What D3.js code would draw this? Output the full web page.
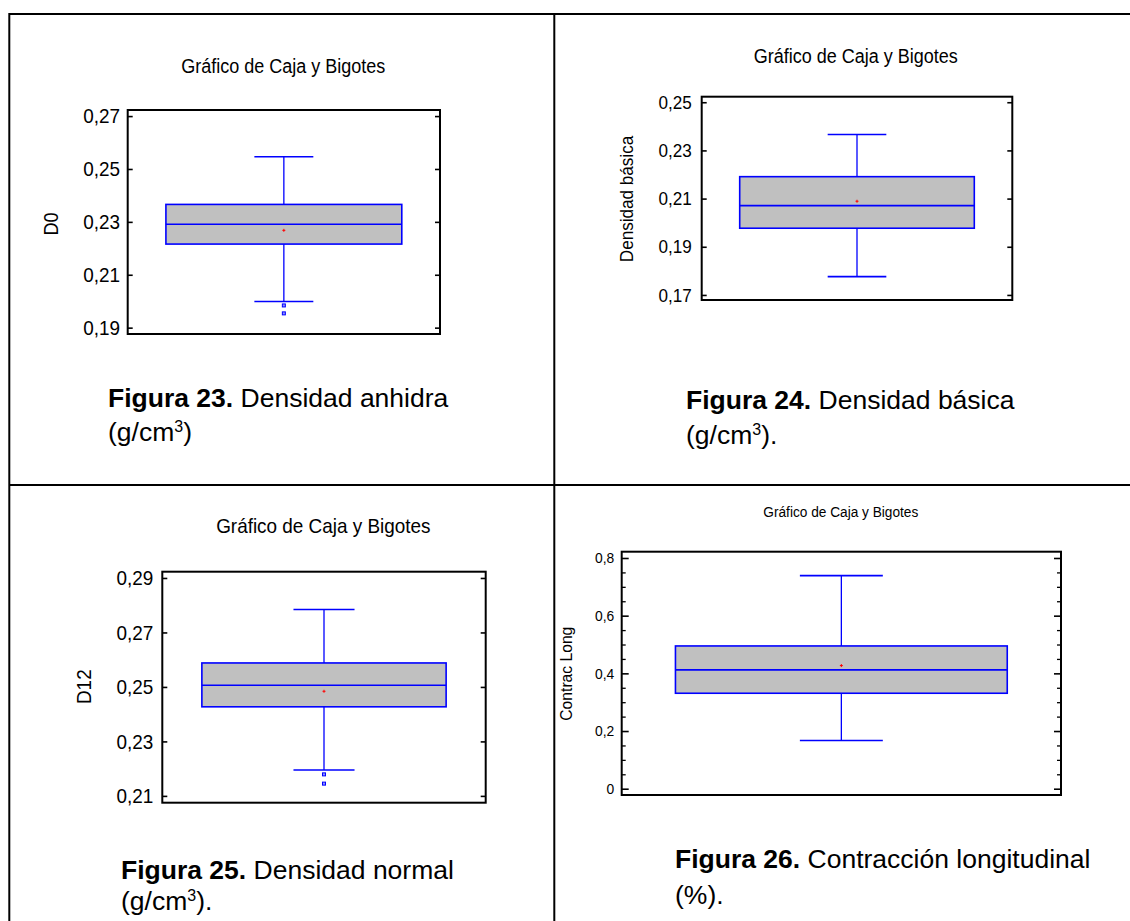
<!DOCTYPE html>
<html><head><meta http-equiv="Content-Type" content="text/html; charset=UTF-8">
<script src="https://d3js.org/d3.v7.min.js"></script>
<style>
    body { margin: 0; background: #fff; }
    svg text { font-family: "Liberation Sans", Arial, sans-serif; fill: #000; }
</style>
</head>
<body>
<div id="body"></div>
<script type="text/javascript">

var w = 1130,
    h = 921;

// values
var yLabels = ["D0", "Densidad básica", "D12", "Contrac Long"];
var lowWhisker = [0.1999, 0.1776, 0.2195, 0.167];
var q1 = [0.2216, 0.1977, 0.2427, 0.331];
var medians = [0.2291, 0.2071, 0.2506, 0.412];
var q3 = [0.2366, 0.2191, 0.2588, 0.495];
var highWhisker = [0.2546, 0.2366, 0.2784, 0.739];
var means = [0.2268, 0.2089, 0.2484, 0.427];
var outliers = [[0.1984, 0.1954], [], [0.2179, 0.2145], []];

var yMin = [0.1876, 0.1679, 0.2075, -0.0218];
var yMax = [0.2723, 0.2523, 0.2923, 0.8218];
var tickValues = [
    [0.19, 0.21, 0.23, 0.25, 0.27],
    [0.17, 0.19, 0.21, 0.23, 0.25],
    [0.21, 0.23, 0.25, 0.27, 0.29],
    [0, 0.2, 0.4, 0.6, 0.8]];
var tickLabels = [
    ["0,19", "0,21", "0,23", "0,25", "0,27"],
    ["0,17", "0,19", "0,21", "0,23", "0,25"],
    ["0,21", "0,23", "0,25", "0,27", "0,29"],
    ["0", "0,2", "0,4", "0,6", "0,8"]];
var minorTicks = [[], [], [], [0.05, 0.1, 0.15, 0.25, 0.3, 0.35, 0.45, 0.5, 0.55, 0.65, 0.7, 0.75]];

var titles = ["Gráfico de Caja y Bigotes", "Gráfico de Caja y Bigotes", "Gráfico de Caja y Bigotes", "Gráfico de Caja y Bigotes"];
var figNums = ["Figura 23.", "Figura 24.", "Figura 25.", "Figura 26."];
var figTexts = [" Densidad anhidra", " Densidad básica", " Densidad normal", " Contracción longitudinal"];
var figUnits = [["(g/cm", "3", ")"], ["(g/cm", "3", ")."], ["(g/cm", "3", ")."], ["(%).", "", ""]];

// where each panel sits on the page
var layout = [
    {x0: 127.7, x1: 440, y0: 110, y1: 334, tx: 283.3, ty: 72.7, ts: 20, fs: 21, pad: 7.7, tick: 5,
     lx: 50.5, ly: 224, ls: 20, cx: 108, cy: 406.7, cy2: 441},
    {x0: 701.7, x1: 1012.3, y0: 96.7, y1: 300, tx: 855.8, ty: 63.3, ts: 20, fs: 19, pad: 10, tick: 5,
     lx: 626, ly: 199, ls: 19, cx: 686, cy: 409.3, cy2: 444},
    {x0: 162.3, x1: 485.7, y0: 571.7, y1: 802.7, tx: 323.3, ty: 532.7, ts: 21, fs: 21, pad: 9, tick: 5,
     lx: 84, ly: 686.7, ls: 21, cx: 121, cy: 879, cy2: 910},
    {x0: 621.7, x1: 1061, y0: 551.7, y1: 795, tx: 840.8, ty: 516.7, ts: 15.2, fs: 15.4, pad: 7.4, tick: 7,
     lx: 566, ly: 673.7, ls: 17.4, cx: 675, cy: 868, cy2: 904}];

// the chart lettering is a narrow face: squeeze glyphs to 90%
function condense(sel) {
    sel.each(function() {
        var n = this.getComputedTextLength();
        d3.select(this).attr("textLength", n * 0.9).attr("lengthAdjust", "spacingAndGlyphs");
    });
}

var svg = d3.select("#body").append("svg")
    .attr("width", w)
    .attr("height", h);

svg.append("rect")
    .attr("width", w)
    .attr("height", h)
    .attr("fill", "#fff");

// table lines of the page
var grid = svg.append("g").attr("stroke", "#000").attr("stroke-width", 2);
grid.append("line").attr("x1", 9.3).attr("x2", w + 5).attr("y1", 14).attr("y2", 14);
grid.append("line").attr("x1", 9.3).attr("x2", 9.3).attr("y1", 13).attr("y2", h + 5);
grid.append("line").attr("x1", 554.3).attr("x2", 554.3).attr("y1", 13).attr("y2", h + 5);
grid.append("line").attr("x1", 9.3).attr("x2", w + 5).attr("y1", 485).attr("y2", 485);

yLabels.forEach(function(name, i) {
    var L = layout[i];
    var g = svg.append("g");

    var y = d3.scaleLinear()
        .domain([yMin[i], yMax[i]])
        .range([L.y1, L.y0]);
    var x = d3.scaleBand()
        .domain([name])
        .range([L.x0, L.x1])
        .paddingInner(0)
        .paddingOuter(0.162);

    var bw = x.bandwidth(),
        xc = x(name) + bw / 2,
        cap = bw * 0.25;

    g.append("text")
        .attr("x", L.tx)
        .attr("y", L.ty)
        .attr("text-anchor", "middle")
        .style("font-size", L.ts + "px")
        .text(titles[i])
        .call(condense);

    var left = g.append("g")
        .attr("transform", "translate(" + L.x0 + ",0)")
        .call(d3.axisLeft(y)
            .tickValues(tickValues[i])
            .tickFormat(function(d, j) { return tickLabels[i][j]; })
            .tickSizeInner(-L.tick)
            .tickSizeOuter(0)
            .tickPadding(L.pad));
    left.select(".domain").remove();
    left.selectAll("line").attr("stroke", "#000").attr("stroke-width", 1.6);
    left.selectAll("text")
        .style("font-size", L.fs + "px")
        .style("font-family", "'Liberation Sans', Arial, sans-serif")
        .attr("fill", "#000")
        .call(condense);

    var right = g.append("g")
        .attr("transform", "translate(" + L.x1 + ",0)")
        .call(d3.axisRight(y)
            .tickValues(tickValues[i])
            .tickFormat("")
            .tickSizeInner(-L.tick)
            .tickSizeOuter(0));
    right.select(".domain").remove();
    right.selectAll("line").attr("stroke", "#000").attr("stroke-width", 1.6);

    if (minorTicks[i].length) {
        [d3.axisLeft(y), d3.axisRight(y)].forEach(function(ax, k) {
            var m = g.append("g")
                .attr("transform", "translate(" + (k == 0 ? L.x0 : L.x1) + ",0)")
                .call(ax.tickValues(minorTicks[i]).tickFormat("").tickSizeInner(-4).tickSizeOuter(0));
            m.select(".domain").remove();
            m.selectAll("line").attr("stroke", "#000").attr("stroke-width", 1.3);
        });
    }

    g.append("text")
        .attr("transform", "translate(" + L.lx + "," + L.ly + ") rotate(-90)")
        .attr("text-anchor", "middle")
        .attr("dy", "0.35em")
        .style("font-size", L.ls + "px")
        .text(name)
        .call(condense);

    // whiskers
    g.append("line")
        .attr("x1", xc).attr("x2", xc)
        .attr("y1", y(highWhisker[i])).attr("y2", y(q3[i]))
        .attr("stroke", "#0000ff").attr("stroke-width", 1.3);
    g.append("line")
        .attr("x1", xc).attr("x2", xc)
        .attr("y1", y(q1[i])).attr("y2", y(lowWhisker[i]))
        .attr("stroke", "#0000ff").attr("stroke-width", 1.3);
    g.selectAll(null)
        .data([highWhisker[i], lowWhisker[i]])
        .enter().append("line")
        .attr("x1", xc - cap / 2).attr("x2", xc + cap / 2)
        .attr("y1", function(d) { return y(d); })
        .attr("y2", function(d) { return y(d); })
        .attr("stroke", "#0000ff").attr("stroke-width", 1.6);

    // box
    g.append("rect")
        .attr("x", x(name))
        .attr("y", y(q3[i]))
        .attr("width", bw)
        .attr("height", y(q1[i]) - y(q3[i]))
        .attr("fill", "#c0c0c0")
        .attr("stroke", "#0000ff")
        .attr("stroke-width", 1.6);
    g.append("line")
        .attr("x1", x(name)).attr("x2", x(name) + bw)
        .attr("y1", y(medians[i])).attr("y2", y(medians[i]))
        .attr("stroke", "#0000ff").attr("stroke-width", 1.6);

    // mean
    g.append("path")
        .attr("d", "M" + (xc - 1.5) + "," + y(means[i]) + "h3M" + xc + "," + (y(means[i]) - 1.5) + "v3")
        .attr("stroke", "#ff0000").attr("stroke-width", 1);

    g.selectAll(null)
        .data(outliers[i])
        .enter().append("rect")
        .attr("x", xc - 1.5)
        .attr("y", function(d) { return y(d) - 1.5; })
        .attr("width", 3)
        .attr("height", 3)
        .attr("fill", "#9090ff")
        .attr("stroke", "#0000ff")
        .attr("stroke-width", 1);

    // frame
    g.append("rect")
        .attr("x", L.x0)
        .attr("y", L.y0)
        .attr("width", L.x1 - L.x0)
        .attr("height", L.y1 - L.y0)
        .attr("fill", "none")
        .attr("stroke", "#000")
        .attr("stroke-width", 2);

    // caption under the chart
    var c1 = g.append("text")
        .attr("x", L.cx)
        .attr("y", L.cy)
        .style("font-size", "26.5px");
    c1.append("tspan").style("font-weight", "bold").text(figNums[i]);
    c1.append("tspan").text(figTexts[i]);

    var c2 = g.append("text")
        .attr("x", L.cx)
        .attr("y", L.cy2)
        .style("font-size", "26.5px");
    c2.append("tspan").text(figUnits[i][0]);
    if (figUnits[i][1]) {
        c2.append("tspan").attr("dy", -9).style("font-size", "16px").text(figUnits[i][1]);
        c2.append("tspan").attr("dy", 9).text(figUnits[i][2]);
    }
});

</script>
</body></html>
